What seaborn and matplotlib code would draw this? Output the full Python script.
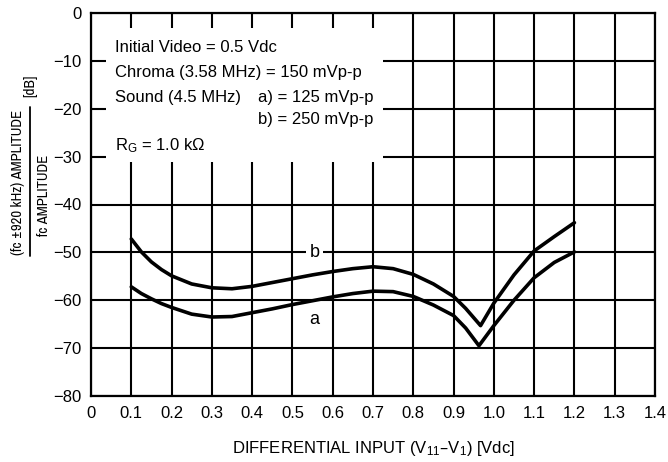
import pandas as pd
import seaborn as sns
import matplotlib.pyplot as plt
from matplotlib import font_manager
from matplotlib.patches import Rectangle
from matplotlib.lines import Line2D

# Curve readings (differential input in Vdc, amplitude ratio in dB)
x_b = [0.10, 0.125, 0.15, 0.175, 0.20, 0.25, 0.30, 0.35, 0.40, 0.45, 0.50, 0.55, 0.60, 0.65,
       0.70, 0.75, 0.80, 0.85, 0.90, 0.93, 0.967, 1.00, 1.05, 1.10, 1.15, 1.20]
db_b = [-47.2, -49.9, -52.0, -53.6, -54.9, -56.6, -57.4, -57.6, -57.1, -56.3, -55.5, -54.7, -54.0, -53.4,
        -53.0, -53.4, -54.6, -56.6, -59.2, -61.7, -65.3, -60.6, -54.7, -49.7, -46.7, -43.8]
x_a = [0.10, 0.125, 0.15, 0.175, 0.20, 0.25, 0.30, 0.35, 0.40, 0.45, 0.50, 0.55, 0.60, 0.65,
       0.70, 0.75, 0.80, 0.85, 0.90, 0.93, 0.963, 1.00, 1.05, 1.10, 1.15, 1.20]
db_a = [-57.2, -58.6, -59.7, -60.7, -61.5, -62.9, -63.5, -63.4, -62.6, -61.8, -60.9, -60.1, -59.3, -58.6,
        -58.1, -58.2, -59.2, -61.0, -63.2, -65.8, -69.5, -65.3, -60.0, -55.3, -52.1, -49.9]

x_ticks = [0, 0.1, 0.2, 0.3, 0.4, 0.5, 0.6, 0.7, 0.8, 0.9, 1.0, 1.1, 1.2, 1.3, 1.4]
x_tick_labels = ["0", "0.1", "0.2", "0.3", "0.4", "0.5", "0.6", "0.7", "0.8", "0.9",
                 "1.0", "1.1", "1.2", "1.3", "1.4"]
y_ticks = [0, -10, -20, -30, -40, -50, -60, -70, -80]
y_tick_labels = ["0", "\u221210", "\u221220", "\u221230", "\u221240", "\u221250",
                 "\u221260", "\u221270", "\u221280"]

conditions = [
    "Initial Video = 0.5 Vdc",
    "Chroma (3.58 MHz) = 150 mVp-p",
    "Sound (4.5 MHz)",
]
sound_a = "a) = 125 mVp-p"
sound_b = "b) = 250 mVp-p"
rg_text = "$\\mathregular{R_G}$ = 1.0 k\u03a9"
x_label = "DIFFERENTIAL INPUT ($\\mathregular{V_{11}}$\u2013$\\mathregular{V_1}$) [Vdc]"
y_num = "(fc \u00b1920 kHz) AMPLITUDE"
y_den = "fc AMPLITUDE"

df = pd.concat([
    pd.DataFrame({"x": x_a, "db": db_a, "curve": "a"}),
    pd.DataFrame({"x": x_b, "db": db_b, "curve": "b"}),
])

sns.set_theme(style="white")
plt.rcParams["font.family"] = ["Liberation Sans", "DejaVu Sans"]
plt.rcParams["mathtext.default"] = "regular"
plt.rcParams["text.color"] = "black"
plt.rcParams["axes.labelcolor"] = "black"
fs = 12

# the y label is squeezed, so use a narrow face for it when one exists
names = sorted({f.name for f in font_manager.fontManager.ttflist})
narrow = [n for n in names if "Narrow" in n or "Condensed" in n]
ylab_font = [narrow[0], "DejaVu Sans"] if narrow else ["Liberation Sans", "DejaVu Sans"]
yfs = 10.6 if narrow else 8.5

fig, ax = plt.subplots(figsize=(6.68, 4.62), dpi=100)
fig.subplots_adjust(left=91 / 668, right=655 / 668, top=1 - 13 / 462, bottom=1 - 396 / 462)

sns.lineplot(data=df, x="x", y="db", units="curve", estimator=None, sort=False,
             color="black", linewidth=2.6, ax=ax, zorder=3)

ax.set_xlim(0, 1.4)
ax.set_ylim(-80, 0)
ax.set_xticks(x_ticks)
ax.set_xticklabels(x_tick_labels, fontsize=fs)
ax.set_yticks(y_ticks)
ax.set_yticklabels(y_tick_labels, fontsize=fs)
ax.tick_params(axis="x", length=0, pad=7.5, colors="black")
ax.tick_params(axis="y", length=0, pad=7, colors="black")
ax.set_axisbelow(True)
ax.grid(True, color="black", linewidth=1.5)
for sp in ax.spines.values():
    sp.set_color("black")
    sp.set_linewidth(1.6)

# white panel behind the test conditions
ax.add_patch(Rectangle((0.037, -31.2), 0.688, 28.0, facecolor="white",
                       edgecolor="none", zorder=1))

ax.text(0.06, -8.1, conditions[0], fontsize=fs, va="baseline", zorder=4)
ax.text(0.06, -13.4, conditions[1], fontsize=fs, va="baseline", zorder=4)
ax.text(0.06, -18.5, conditions[2], fontsize=fs, va="baseline", zorder=4)
ax.text(0.415, -18.5, sound_a, fontsize=fs, va="baseline", zorder=4)
ax.text(0.415, -23.2, sound_b, fontsize=fs, va="baseline", zorder=4)
ax.text(0.06, -28.6, rg_text, fontsize=fs, va="baseline", zorder=4)

ax.text(0.555, -50, "b", fontsize=13, ha="center", va="center", zorder=4,
        bbox=dict(facecolor="white", edgecolor="none", pad=2.5))
ax.text(0.555, -64, "a", fontsize=13, ha="center", va="center", zorder=4)

ax.set_xlabel(x_label, fontsize=fs, labelpad=13)
ax.set_ylabel("")

# stacked fraction for the y label
fig.text(18 / 668, 1 - 182 / 462, y_num, rotation=90, fontsize=yfs,
         family=ylab_font, ha="center", va="center")
fig.text(44 / 668, 1 - 195 / 462, y_den, rotation=90, fontsize=yfs,
         family=ylab_font, ha="center", va="center")
fig.add_artist(Line2D([30 / 668, 30 / 668], [1 - 256 / 462, 1 - 107 / 462],
                      color="black", linewidth=1.3, transform=fig.transFigure))
fig.text(30 / 668, 1 - 86 / 462, "[dB]", rotation=90, fontsize=11,
         family=ylab_font, ha="center", va="center")

fig.savefig("out.png", dpi=100)
